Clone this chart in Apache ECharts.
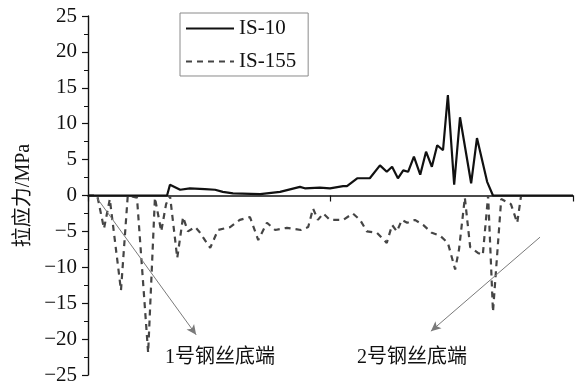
<!DOCTYPE html>
<html>
<head>
<meta charset="utf-8">
<script src="https://cdn.jsdelivr.net/npm/echarts@6/dist/echarts.min.js"></script>
<style>
  html, body { margin: 0; padding: 0; background: #fff; }
  #chart { width: 581px; height: 387px; }
</style>
</head>
<body>
<div id="chart"></div>
<script>
// Position along the sample line (0–100) and tensile stress (MPa)
const is10X = [0, 16.3, 16.9, 19.0, 21.0, 24.1, 26.2, 27.8, 29.9, 35.5, 39.6, 43.7, 44.7, 47.8, 49.9,
  52.6, 53.4, 55.5, 58.1, 60.2, 61.6, 62.7, 63.9, 65.0, 66.0, 67.2, 68.5, 69.7, 70.9, 72.0, 73.2,
  74.2, 75.5, 76.7, 79.0, 80.2, 82.3, 83.5, 100];
const is10Y = [0, 0, 1.5, 0.8, 1.0, 0.9, 0.8, 0.5, 0.3, 0.2, 0.5, 1.2, 1.0, 1.1, 1.0,
  1.3, 1.3, 2.4, 2.4, 4.2, 3.3, 4.0, 2.4, 3.5, 3.3, 5.4, 2.9, 6.1, 4.0, 7.0, 6.3,
  14.0, 1.5, 10.9, 1.7, 8.0, 1.9, 0, 0];

const is155X = [0, 1.9, 3.3, 4.5, 6.8, 8.2, 10.1, 12.4, 13.8, 15.1, 16.1, 16.9, 18.4, 19.6, 20.6,
  22.1, 22.9, 25.2, 26.8, 29.3, 31.3, 33.4, 35.1, 36.9, 38.6, 41.0, 43.9, 45.4, 46.4, 47.4, 48.5,
  49.9, 52.6, 54.6, 56.1, 57.5, 59.6, 61.6, 62.7, 63.7, 64.7, 65.8, 67.4, 69.1, 70.9, 72.6, 74.2,
  75.7, 76.5, 77.7, 78.8, 80.4, 81.4, 82.5, 83.5, 85.2, 87.2, 88.5, 89.3];
const is155Y = [0, 0, -4.6, -0.5, -13.2, 0, -0.3, -21.9, -0.3, -5.0, -1.2, 0, -8.7, -3.0, -5.0,
  -4.4, -5.0, -7.3, -4.8, -4.4, -3.4, -3.0, -6.2, -3.8, -4.8, -4.5, -4.8, -4.4, -1.8, -3.4, -2.5,
  -3.4, -3.4, -2.5, -3.4, -5.0, -5.2, -6.6, -4.1, -5.0, -3.4, -3.8, -3.4, -4.1, -5.2, -5.6, -6.6,
  -10.3, -7.5, -0.3, -7.2, -8.0, -8.3, 0, -16.2, -0.5, -1.2, -3.8, 0];

const seriesNames = ['IS-10', 'IS-155'];
const yTicks = { min: -25, max: 25, step: 5 };

// Arrows pointing to the wire ends: [startX, startY, endX, endY]
const arrow1 = [1.9, -0.4, 22.3, -19.4];
const arrow2 = [93.2, -5.8, 70.7, -18.9];
// Captions under the arrows: [x, y, text]
const caption1 = [27.2, -22.6, '1号钢丝底端'];
const caption2 = [66.8, -22.6, '2号钢丝底端'];

const zip = (xs, ys) => xs.map((x, i) => [x, ys[i]]);
const serif = '"Liberation Serif", "Times New Roman", "Noto Sans CJK SC", serif';

const chart = echarts.init(document.getElementById('chart'), null, { renderer: 'canvas' });

const option = {
  animation: false,
  backgroundColor: '#fff',
  grid: { left: 88, right: 8, top: 16, bottom: 12, containLabel: false },
  legend: {
    orient: 'vertical',
    left: 180,
    top: 13,
    padding: [5, 12, 4, 5],
    itemGap: 12,
    itemWidth: 48,
    itemHeight: 14,
    borderColor: '#8a8a8a',
    borderWidth: 1,
    itemStyle: { opacity: 0 },
    textStyle: { fontFamily: serif, fontSize: 21, color: '#111' },
    data: seriesNames
  },
  xAxis: {
    type: 'value',
    min: 0,
    max: 100,
    interval: 50,
    axisLine: { onZero: true, lineStyle: { color: '#111', width: 1.6 } },
    axisTick: { show: true, inside: false, length: 6, lineStyle: { color: '#111', width: 1.2 } },
    axisLabel: { show: false },
    splitLine: { show: false }
  },
  yAxis: {
    type: 'value',
    min: yTicks.min,
    max: yTicks.max,
    interval: yTicks.step,
    name: '拉应力/MPa',
    nameLocation: 'middle',
    nameGap: 52,
    nameRotate: 90,
    nameTextStyle: { fontFamily: serif, fontSize: 20, color: '#111' },
    axisLine: { show: true, onZero: false, lineStyle: { color: '#111', width: 1.4 } },
    axisTick: { show: true, inside: false, length: 6, lineStyle: { color: '#111', width: 1.2 } },
    minorTick: { show: true, splitNumber: 2, length: 4, lineStyle: { color: '#111', width: 1 } },
    axisLabel: {
      margin: 11,
      fontFamily: serif,
      fontSize: 21,
      color: '#111',
      formatter: v => (v < 0 ? '\u2212' + Math.abs(v) : String(v))
    },
    splitLine: { show: false }
  },
  series: [
    {
      name: seriesNames[0],
      type: 'line',
      data: zip(is10X, is10Y),
      showSymbol: false,
      symbol: 'none',
      z: 3,
      lineStyle: { color: '#111', width: 2.2 },
      itemStyle: { color: '#111' }
    },
    {
      name: seriesNames[1],
      type: 'line',
      data: zip(is155X, is155Y),
      showSymbol: false,
      symbol: 'none',
      z: 2,
      lineStyle: { color: '#454545', width: 2.2, type: [6, 5] },
      itemStyle: { color: '#454545' },
      markLine: {
        silent: true,
        symbol: ['none', 'arrow'],
        symbolSize: [7, 10],
        label: { show: false },
        lineStyle: { color: '#7a7a7a', width: 1, type: 'solid' },
        emphasis: { disabled: true },
        data: [
          [{ coord: [arrow1[0], arrow1[1]] }, { coord: [arrow1[2], arrow1[3]] }],
          [{ coord: [arrow2[0], arrow2[1]] }, { coord: [arrow2[2], arrow2[3]] }]
        ]
      }
    }
  ]
};

chart.setOption(option);

// Captions placed in data space, converted to pixels through the chart's scales
const captions = [caption1, caption2].map(c => {
  const p = chart.convertToPixel({ gridIndex: 0 }, [c[0], c[1]]);
  return {
    type: 'text',
    x: p[0],
    y: p[1],
    style: {
      text: c[2],
      fontFamily: serif,
      fontSize: 20,
      fill: '#111',
      align: 'center',
      verticalAlign: 'middle'
    },
    z: 10
  };
});
chart.setOption({ graphic: captions });
</script>
</body>
</html>
